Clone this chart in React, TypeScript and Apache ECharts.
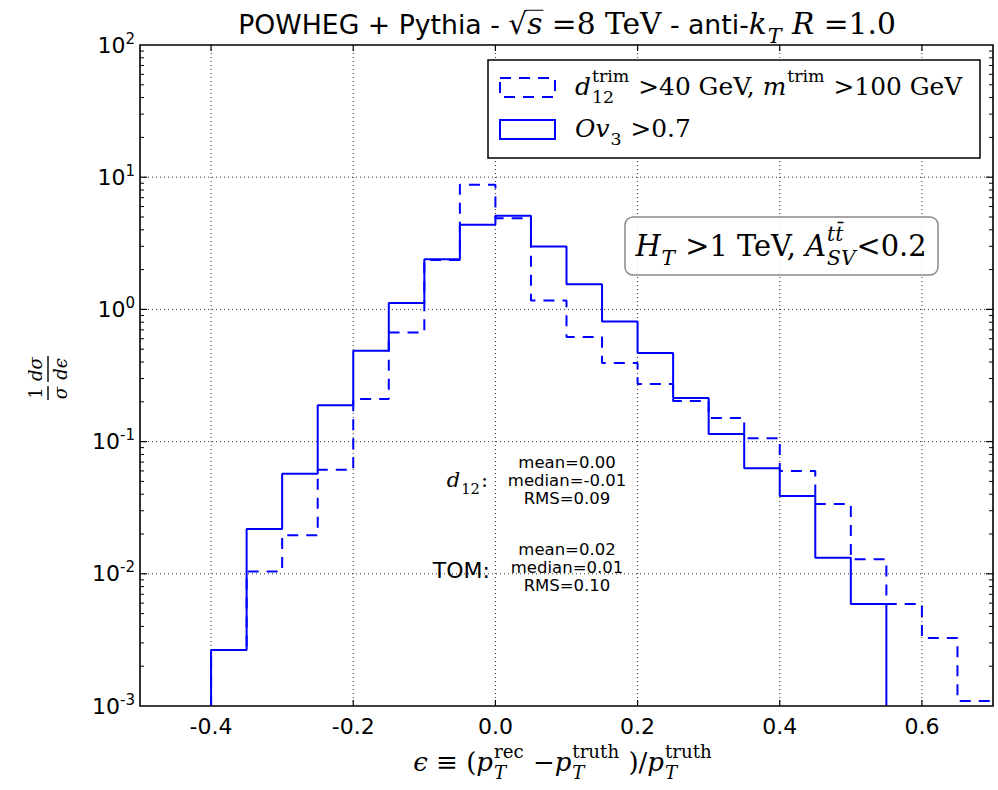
import React, { useEffect, useRef } from 'react';
import * as echarts from 'echarts';

// ---------------- data ----------------
const binEdges = [
  -0.4, -0.35, -0.3, -0.25, -0.2, -0.15, -0.1, -0.05, 0.0, 0.05, 0.1, 0.15,
  0.2, 0.25, 0.3, 0.35, 0.4, 0.45, 0.5, 0.55, 0.6, 0.65, 0.7,
];
// d12^trim > 40 GeV, m^trim > 100 GeV (dashed)
const d12TrimValues = [
  0.00265, 0.0104, 0.0196, 0.0613, 0.21, 0.669, 2.36, 8.75, 4.9, 1.17, 0.617,
  0.393, 0.273, 0.203, 0.151, 0.106, 0.06, 0.0337, 0.0129, 0.0059, 0.00327, 0.00109,
];
// Ov3 > 0.7 (solid); 0 = empty bin
const ov3Values = [
  0.00265, 0.0218, 0.0572, 0.188, 0.486, 1.12, 2.4, 4.36, 5.1, 2.99, 1.55,
  0.811, 0.467, 0.214, 0.114, 0.063, 0.0387, 0.0132, 0.0059, 0, 0, 0,
];
const xTickLabels = [-0.4, -0.2, 0.0, 0.2, 0.4, 0.6];
const yDecades = [0.001, 0.01, 0.1, 1, 10, 100];
const statsD12 = ['mean=0.00', 'median=-0.01', 'RMS=0.09'];
const statsTOM = ['mean=0.02', 'median=0.01', 'RMS=0.10'];

const X_MIN = -0.5;
const X_MAX = 0.7;
const Y_MIN = 0.001;
const Y_MAX = 100;

// ---------------- helpers ----------------
const SERIF = '"DejaVu Serif", "Liberation Serif", serif';
const SANS = '"DejaVu Sans", sans-serif';
const BLUE = '#0000ff';

let measureCtx: any = null;
function measure(text: string, font: string): number {
  if (!measureCtx) measureCtx = document.createElement('canvas').getContext('2d');
  measureCtx.font = font;
  return measureCtx.measureText(text).width;
}
function fnt(kind: string, size: number) {
  const fam = kind === 'sans' ? SANS : SERIF;
  return `${kind === 'it' ? 'italic ' : ''}${size.toFixed(2)}px ${fam}`;
}
function txt(t: string, x: number, y: number, font: string, extra: any = {}) {
  const style: any = {
    text: t,
    font,
    fill: '#000',
    align: extra.align || 'left',
    verticalAlign: 'middle',
    textAlign: extra.align || 'left',
    textVerticalAlign: 'middle',
  };
  if (extra.lineHeight) style.lineHeight = extra.lineHeight;
  return { type: 'text', x, y, style };
}
type Seg = { t: string; f?: string; k?: number; sup?: string; sub?: string; supF?: string; subF?: string; over?: boolean };
function buildMath(segs: Seg[], size: number) {
  const els: any[] = [];
  let cx = 0;
  for (const s of segs) {
    const sz = size * (s.k || 1);
    const ss = sz * 0.7;
    const f = fnt(s.f || 'rm', sz);
    const w = s.t ? measure(s.t, f) : 0;
    if (s.t) els.push(txt(s.t, cx, -0.34 * sz, f));
    if (s.over) {
      els.push({
        type: 'line',
        shape: { x1: cx - 1, y1: -0.8 * sz, x2: cx + w + 1, y2: -0.8 * sz },
        style: { stroke: '#000', lineWidth: 1 },
      });
    }
    cx += w;
    let extraW = 0;
    if (s.sup) {
      const f2 = fnt(s.supF || 'rm', ss);
      els.push(txt(s.sup, cx + 1, -0.52 * sz - 0.34 * ss, f2));
      extraW = Math.max(extraW, measure(s.sup, f2) + 2);
    }
    if (s.sub) {
      const f2 = fnt(s.subF || 'rm', ss);
      els.push(txt(s.sub, cx + 1, 0.3 * sz - 0.34 * ss, f2));
      extraW = Math.max(extraW, measure(s.sub, f2) + 2);
    }
    cx += extraW;
  }
  return { els, width: cx };
}
function mathText(segs: Seg[], size: number, x: number, baseline: number, align = 'left', z = 100, fitWidth = 0) {
  let r = buildMath(segs, size);
  if (fitWidth > 0 && r.width > 0) r = buildMath(segs, (size * fitWidth) / r.width);
  const off = align === 'center' ? r.width / 2 : align === 'right' ? r.width : 0;
  return { type: 'group', x: x - off, y: baseline, z, children: r.els.map((e) => ({ ...e, z })) };
}

function buildSteps(values: number[]): [number, number][] {
  const pts: [number, number][] = [[binEdges[0], Y_MIN]];
  for (let i = 0; i < values.length; i++) {
    if (values[i] <= 0) {
      pts.push([binEdges[i], Y_MIN]);
      return pts;
    }
    pts.push([binEdges[i], values[i]]);
  }
  pts.push([binEdges[values.length], values[values.length - 1]]);
  return pts;
}

const yMinor: number[] = [];
for (const d of yDecades.slice(0, -1)) for (let k = 2; k <= 9; k++) yMinor.push(d * k);

const gridDot = { stroke: '#333', lineWidth: 1, lineDash: [1, 3] };
const tickStyle = { stroke: '#000', lineWidth: 1.2 };

export default function App() {
  const ref = useRef<HTMLDivElement>(null);
  useEffect(() => {
    if (!ref.current) return;
    const chart = echarts.init(ref.current, undefined, { renderer: 'svg' });

    const titleSegs: Seg[] = [
      { t: 'POWHEG + Pythia - ', f: 'sans', k: 0.9 },
      { t: '√', f: 'rm' },
      { t: 's', f: 'it', over: true },
      { t: ' =8 TeV', f: 'rm' },
      { t: ' - anti-', f: 'sans', k: 0.9 },
      { t: 'k', f: 'it', sub: 'T', subF: 'it' },
      { t: ' R', f: 'it' },
      { t: ' =1.0', f: 'rm' },
    ];
    const leg1: Seg[] = [
      { t: 'd', f: 'it', sub: '12', sup: 'trim' },
      { t: ' >40 GeV, ', f: 'rm' },
      { t: 'm', f: 'it', sup: 'trim' },
      { t: ' >100 GeV', f: 'rm' },
    ];
    const boxSegs: Seg[] = [
      { t: 'H', f: 'it', sub: 'T', subF: 'it' },
      { t: ' >1 TeV, ', f: 'rm' },
      { t: 'A', f: 'it', sup: 'tt\u0304', supF: 'it', sub: 'SV', subF: 'it' },
      { t: '<0.2', f: 'rm' },
    ];
    const xLabSegs: Seg[] = [
      { t: 'ϵ', f: 'it' },
      { t: ' ≡ (', f: 'rm' },
      { t: 'p', f: 'it', sup: 'rec', sub: 'T', subF: 'it' },
      { t: ' −', f: 'rm' },
      { t: 'p', f: 'it', sup: 'truth', sub: 'T', subF: 'it' },
      { t: ' )/', f: 'rm' },
      { t: 'p', f: 'it', sup: 'truth', sub: 'T', subF: 'it' },
    ];

    // legend size derived from fitting first entry to the reference width
    const legNatural = buildMath(leg1, 22).width;
    const legSize = (22 * 388) / legNatural;
    const leg2: Seg[] = [
      { t: 'Ov', f: 'it', sub: '3' },
      { t: ' >0.7', f: 'rm' },
    ];

    const statsFont = `16.5px ${SANS}`;
    const graphics: any[] = [
      mathText(titleSegs, 22, 567, 34, 'center', 100, 658),
      // legend
      {
        type: 'rect', z: 100,
        shape: { x: 488, y: 60, width: 492, height: 98 },
        style: { fill: '#fff', stroke: '#000', lineWidth: 1.5 },
      },
      {
        type: 'rect', z: 101,
        shape: { x: 500, y: 78, width: 55, height: 19 },
        style: { fill: 'none', stroke: BLUE, lineWidth: 2, lineDash: [11, 8] },
      },
      {
        type: 'rect', z: 101,
        shape: { x: 500, y: 120, width: 55, height: 19 },
        style: { fill: 'none', stroke: BLUE, lineWidth: 2 },
      },
      mathText(leg1, legSize, 575, 95, 'left', 101),
      mathText(leg2, legSize, 575, 137, 'left', 101),
      // annotation box
      {
        type: 'rect', z: 100,
        shape: { x: 625, y: 217, width: 313, height: 58, r: 8 },
        style: { fill: 'rgba(255,255,255,0.85)', stroke: '#888', lineWidth: 1.5 },
      },
      mathText(boxSegs, 25, 781, 256, 'center', 101, 292),
      // stats
      mathText([{ t: 'd', f: 'it', sub: '12' }, { t: ':', f: 'rm' }], 21, 488, 487, 'right'),
      { ...txt('TOM:', 490, 570, `22px ${SANS}`, { align: 'right' }), z: 100 },
      ...statsD12.map((s, i) => ({ ...txt(s, 567, 462 + i * 18, statsFont, { align: 'center' }), z: 100 })),
      ...statsTOM.map((s, i) => ({ ...txt(s, 567, 549.5 + i * 18, statsFont, { align: 'center' }), z: 100 })),
      // x label
      mathText(xLabSegs, 24, 563, 771, 'center', 100, 300),
      // y label (fraction, rotated)
      {
        type: 'group', x: 48, y: 378, rotation: Math.PI / 2, z: 100,
        children: [
          { ...txt('1', -15, -13, `18px ${SERIF}`, { align: 'center' }), z: 100 },
          { ...txt('σ', -15, 12, `italic 18px ${SERIF}`, { align: 'center' }), z: 100 },
          { type: 'line', z: 100, shape: { x1: -22, y1: 0, x2: -8, y2: 0 }, style: { stroke: '#000', lineWidth: 1.4 } },
          { ...txt('dσ', 9, -13, `italic 18px ${SERIF}`, { align: 'center' }), z: 100 },
          { ...txt('dϵ', 9, 12, `italic 18px ${SERIF}`, { align: 'center' }), z: 100 },
          { type: 'line', z: 100, shape: { x1: -4, y1: 0, x2: 22, y2: 0 }, style: { stroke: '#000', lineWidth: 1.4 } },
        ],
      },
    ];

    const option: any = {
      animation: false,
      backgroundColor: '#fff',
      grid: {
        left: 140, right: 5, top: 45, bottom: 84,
        show: true, borderColor: '#000', borderWidth: 1.6, backgroundColor: 'transparent', z: 10,
      },
      xAxis: {
        type: 'value', min: X_MIN, max: X_MAX, interval: 0.1,
        axisLine: { show: false }, axisTick: { show: false }, splitLine: { show: false },
        axisLabel: {
          margin: 9, fontSize: 22, fontFamily: SANS, color: '#000',
          formatter: (v: number) => {
            const hit = xTickLabels.some((t) => Math.abs(t - v) < 1e-6);
            return hit ? (Math.abs(v) < 1e-9 ? '0.0' : v.toFixed(1)) : '';
          },
        },
      },
      yAxis: {
        type: 'log', logBase: 10, min: Y_MIN, max: Y_MAX,
        axisLine: { show: false }, axisTick: { show: false }, splitLine: { show: false },
        axisLabel: {
          margin: 5,
          formatter: (v: number) => `{b|10}{s|${Math.round(Math.log10(v))}}`,
          rich: {
            b: { fontSize: 22, fontFamily: SANS, color: '#000', lineHeight: 28 },
            s: { fontSize: 15, fontFamily: SANS, color: '#000', verticalAlign: 'top', lineHeight: 13 },
          },
        },
      },
      graphic: graphics,
      series: [
        {
          type: 'custom', coordinateSystem: 'cartesian2d', silent: true, z: 1,
          data: xTickLabels.map((v) => [v, 1]),
          renderItem: (params: any, api: any) => {
            const x = api.coord([api.value(0), 1])[0];
            const cs = params.coordSys;
            const top = cs.y, bot = cs.y + cs.height;
            return {
              type: 'group',
              children: [
                { type: 'line', shape: { x1: x, y1: top, x2: x, y2: bot }, style: gridDot },
                { type: 'line', shape: { x1: x, y1: bot, x2: x, y2: bot - 6 }, style: tickStyle },
                { type: 'line', shape: { x1: x, y1: top, x2: x, y2: top + 6 }, style: tickStyle },
              ],
            };
          },
        },
        {
          type: 'custom', coordinateSystem: 'cartesian2d', silent: true, z: 1,
          data: yDecades.slice(1, -1).map((v) => [0, v]),
          renderItem: (params: any, api: any) => {
            const y = api.coord([0, api.value(1)])[1];
            const cs = params.coordSys;
            const l = cs.x, r = cs.x + cs.width;
            return {
              type: 'group',
              children: [
                { type: 'line', shape: { x1: l, y1: y, x2: r, y2: y }, style: gridDot },
                { type: 'line', shape: { x1: l, y1: y, x2: l + 7, y2: y }, style: tickStyle },
                { type: 'line', shape: { x1: r, y1: y, x2: r - 7, y2: y }, style: tickStyle },
              ],
            };
          },
        },
        {
          type: 'custom', coordinateSystem: 'cartesian2d', silent: true, z: 1,
          data: yMinor.map((v) => [0, v]),
          renderItem: (params: any, api: any) => {
            const y = api.coord([0, api.value(1)])[1];
            const cs = params.coordSys;
            const l = cs.x, r = cs.x + cs.width;
            return {
              type: 'group',
              children: [
                { type: 'line', shape: { x1: l, y1: y, x2: l + 4, y2: y }, style: { stroke: '#000', lineWidth: 1 } },
                { type: 'line', shape: { x1: r, y1: y, x2: r - 4, y2: y }, style: { stroke: '#000', lineWidth: 1 } },
              ],
            };
          },
        },
        {
          name: 'd12trim', type: 'line', step: 'end', symbol: 'none', z: 3,
          data: buildSteps(d12TrimValues),
          lineStyle: { color: BLUE, width: 2, type: [11, 8] },
        },
        {
          name: 'ov3', type: 'line', step: 'end', symbol: 'none', z: 4,
          data: buildSteps(ov3Values),
          lineStyle: { color: BLUE, width: 2, type: 'solid' },
        },
      ],
    };
    chart.setOption(option);
    return () => chart.dispose();
  }, []);
  return (
    <div
      ref={ref}
      style={{ position: 'fixed', left: 0, top: 0, width: 998, height: 790, background: '#fff' }}
    />
  );
}
